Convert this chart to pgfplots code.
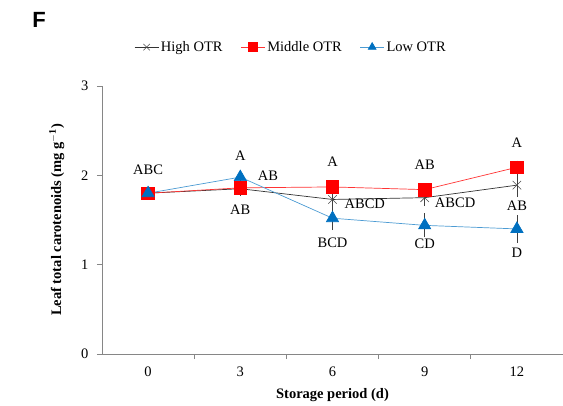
\documentclass[border=0pt]{standalone}
\usepackage{fontspec}
\setmainfont{Liberation Serif}
\newfontfamily\sansbold{Liberation Sans}
\usepackage{pgfplots}
\pgfplotsset{compat=1.18}
\definecolor{otrred}{HTML}{FF0000}
\definecolor{otrblue}{HTML}{0070C0}
\definecolor{axgray}{HTML}{868686}
\begin{document}
\begin{tikzpicture}
\path[use as bounding box] (-102pt,-51pt) rectangle (461pt,354pt);
\node[font=\sansbold\bfseries\fontsize{22}{24}\selectfont] at (-63pt,334pt) {F};
\begin{axis}[
    at={(0,0)}, anchor=south west,
    scale only axis, width=461pt, height=268pt,
    xmin=-0.5, xmax=4.5, ymin=0, ymax=3,
    axis lines*=left,
    axis line style={axgray, line width=0.7pt, -},
    xtick={0,1,2,3,4},
    xticklabels={0,3,6,9,12},
    minor xtick={0.5,1.5,2.5,3.5},
    major x tick style={draw=none},
    minor x tick style={axgray, line width=0.7pt},
    ytick={0,1,2,3},
    y tick style={axgray, line width=0.7pt},
    tick align=outside,
    major tick length=5pt, minor tick length=5pt,
    /pgf/number format/assume math mode=true,
    tick label style={font=\fontsize{14.5}{16}\selectfont},
    xticklabel style={yshift=-4pt},
    yticklabel style={xshift=-5pt},
    xlabel={\textbf{Storage period (d)}},
    ylabel={\textbf{Leaf total carotenoids (mg g\textsuperscript{$-$1})}},
    label style={font=\fontsize{14.5}{16}\selectfont},
    xlabel style={yshift=-5pt},
    ylabel style={yshift=10pt},
    legend style={at={(0.41,1.145)}, anchor=center, draw=none, fill=none,
        font=\fontsize{14.5}{16}\selectfont, legend columns=-1,
        /tikz/every even column/.append style={column sep=16pt}},
    legend image code/.code={%
        \draw[mark repeat=2, mark phase=2] plot coordinates {(0pt,0pt) (12pt,0pt) (24pt,0pt)};},
    legend image post style={mark size=4.5pt},
    legend cell align=left,
    clip=false,
    error bars/error bar style={black!75, line width=0.6pt},
    error bars/error mark options={black!75, mark size=3pt, line width=0.6pt},
]
\addplot[black!80, line width=0.7pt, mark=x, mark size=6pt,
    mark options={black!70, line width=0.6pt},
    error bars/.cd, y dir=both, y explicit] coordinates {
    (0,1.80) +- (0,0.03)
    (1,1.85) +- (0,0.05)
    (2,1.73) +- (0,0.09)
    (3,1.75) +- (0,0.06)
    (4,1.89) +- (0,0.10)
};
\addlegendentry{High OTR}
\addplot[otrred!80, line width=0.7pt, mark=square*, mark size=6.3pt,
    mark options={otrred},
    error bars/.cd, y dir=both, y explicit] coordinates {
    (0,1.80) +- (0,0.03)
    (1,1.86) +- (0,0.05)
    (2,1.87) +- (0,0.04)
    (3,1.84) +- (0,0.04)
    (4,2.09) +- (0,0.04)
};
\addlegendentry{Middle OTR}
\addplot[otrblue!70, line width=0.7pt, mark=triangle*, mark size=7pt,
    mark options={otrblue},
    error bars/.cd, y dir=both, y explicit] coordinates {
    (0,1.80) +- (0,0.03)
    (1,1.98) +- (0,0.04)
    (2,1.52) +- (0,0.10)
    (3,1.44) +- (0,0.10)
    (4,1.40) +- (0,0.12)
};
\addlegendentry{Low OTR}
\begin{scope}[every node/.style={font=\fontsize{14.5}{16}\selectfont, inner sep=0pt}]
\node at (axis cs:0,2.06) {ABC};
\node at (axis cs:1,2.22) {A};
\node at (axis cs:1.30,2.00) {AB};
\node at (axis cs:1,1.61) {AB};
\node at (axis cs:2,2.15) {A};
\node at (axis cs:2.35,1.68) {ABCD};
\node at (axis cs:2,1.25) {BCD};
\node at (axis cs:3,2.12) {AB};
\node at (axis cs:3.33,1.69) {ABCD};
\node at (axis cs:3,1.23) {CD};
\node at (axis cs:4,2.36) {A};
\node at (axis cs:4,1.66) {AB};
\node at (axis cs:4,1.13) {D};
\end{scope}
\end{axis}
\end{tikzpicture}
\end{document}
